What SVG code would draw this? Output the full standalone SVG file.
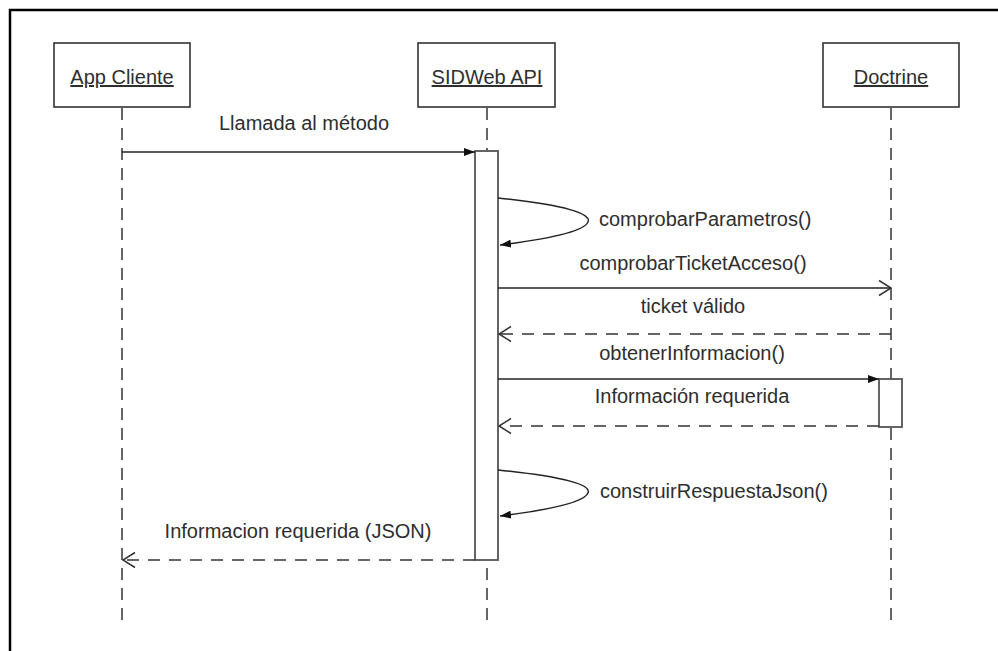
<svg xmlns="http://www.w3.org/2000/svg" width="998" height="651" viewBox="0 0 998 651">
<defs>
<style>
text{font-family:"Liberation Sans",Arial,sans-serif;font-size:20px;fill:#2e2e2e}
.box{fill:#fff;stroke:#333;stroke-width:1.6}
.life{stroke:#333;stroke-width:1.5;stroke-dasharray:12 8;fill:none}
.act{fill:#fff;stroke:#555;stroke-width:1.8}
.msg{stroke:#222;stroke-width:1.4;fill:none}
.ret{stroke:#333;stroke-width:1.6;stroke-dasharray:12 9;fill:none}
.u{text-decoration:underline}
</style>
<marker id="fill" viewBox="0 0 11 8" refX="11" refY="4" markerWidth="11" markerHeight="8" markerUnits="userSpaceOnUse" orient="auto"><path d="M0,0 L11,4 L0,8 z" fill="#111"/></marker>
<marker id="open" viewBox="0 0 14 18" refX="13" refY="9" markerWidth="14" markerHeight="18" markerUnits="userSpaceOnUse" orient="auto"><path d="M1,1.5 L13,9 L1,16.5" fill="none" stroke="#333" stroke-width="1.5"/></marker>
</defs>
<rect width="998" height="651" fill="#fff"/>
<path d="M10,651 V10 H998" fill="none" stroke="#000" stroke-width="2.5"/>

<g id="lifelines">
<line class="life" x1="122" y1="108" x2="122" y2="624"/>
<line class="life" x1="487" y1="108" x2="487" y2="624"/>
<line class="life" x1="891" y1="108" x2="891" y2="624"/>
</g>

<g id="app-cliente">
<rect class="box" x="54" y="43" width="136" height="64"/>
<text class="u" x="122" y="84" text-anchor="middle">App Cliente</text>
</g>
<g id="sidweb-api">
<rect class="box" x="418" y="43" width="137" height="64"/>
<text class="u" x="487" y="84" text-anchor="middle">SIDWeb API</text>
</g>
<g id="doctrine">
<rect class="box" x="823" y="43" width="136" height="64"/>
<text class="u" x="891" y="84" text-anchor="middle">Doctrine</text>
</g>

<g id="activations">
<rect class="act" x="475" y="151" width="23" height="409"/>
<rect class="act" x="879" y="379" width="23" height="48"/>
</g>

<g id="connectors">
<line class="msg" x1="122" y1="152" x2="475" y2="152" marker-end="url(#fill)"/>
<path class="msg" d="M498,198 C566,205 592,214 588,222 C584,232 540,240 500,245" marker-end="url(#fill)"/>
<line class="msg" x1="498" y1="288" x2="891" y2="288" marker-end="url(#open)"/>
<line class="ret" x1="891" y1="334" x2="499" y2="334" marker-end="url(#open)"/>
<line class="msg" x1="498" y1="379" x2="879" y2="379" marker-end="url(#fill)"/>
<line class="ret" x1="879" y1="426" x2="499" y2="426" marker-end="url(#open)"/>
<path class="msg" d="M498,470 C566,477 592,485 588,493 C584,503 540,511 500,516" marker-end="url(#fill)"/>
<line class="ret" x1="475" y1="560" x2="123" y2="560" marker-end="url(#open)"/>
</g>

<g id="labels">
<text x="304" y="130" text-anchor="middle">Llamada al método</text>
<text x="599" y="226">comprobarParametros()</text>
<text x="693" y="270" text-anchor="middle">comprobarTicketAcceso()</text>
<text x="693" y="313" text-anchor="middle">ticket válido</text>
<text x="692" y="360" text-anchor="middle">obtenerInformacion()</text>
<text x="692" y="403" text-anchor="middle">Información requerida</text>
<text x="600" y="498">construirRespuestaJson()</text>
<text x="298" y="538" text-anchor="middle">Informacion requerida (JSON)</text>
</g>
</svg>
